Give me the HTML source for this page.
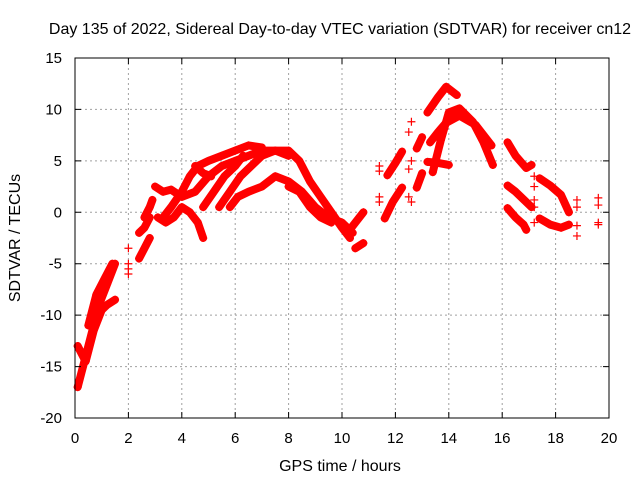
<!DOCTYPE html>
<html><head><meta charset="utf-8"><style>
body{margin:0;background:#fff;}
svg text{font-family:"Liberation Sans",sans-serif;font-size:15px;fill:#000;}
svg text.big{font-size:16px;}
</style></head><body>
<svg width="640" height="480" xmlns="http://www.w3.org/2000/svg">
<rect width="640" height="480" fill="#fff"/>
<g id="grid"></g>
<g id="tracks"></g>
<rect x="75" y="58" width="534" height="360" fill="none" stroke="#000" stroke-width="1"/>
<g id="axes"></g>
<text class="big" x="340" y="34" text-anchor="middle">Day 135 of 2022, Sidereal Day-to-day VTEC variation (SDTVAR) for receiver cn12</text>
<text class="big" x="340" y="471" text-anchor="middle">GPS time / hours</text>
<text class="big" x="20" y="238" text-anchor="middle" transform="rotate(-90 20 238)">SDTVAR / TECUs</text>
</svg>
<script>
const xTicks=[0,2,4,6,8,10,12,14,16,18,20];
const yTicks=[-20,-15,-10,-5,0,5,10,15];
const trackA=[[0.1,-17],[0.3,-15],[0.6,-12],[0.9,-9],[1.2,-7],[1.5,-5]];
const trackB=[[0.1,-13],[0.4,-14.5],[0.7,-11.5],[1.0,-9.5],[1.2,-9],[1.5,-8.5]];
const trackC=[[0.5,-11],[0.8,-8],[1.1,-6.5],[1.4,-5]];
const trackD=[[2.4,-4.5],[2.6,-3.5],[2.8,-2.5]];
const trackE=[[2.4,-2],[2.6,-1.5],[2.8,-0.5]];
const trackF=[[2.6,-0.5],[2.8,0.5],[2.9,1.2]];
const trackG=[[3.0,2.5],[3.3,2],[3.6,2.2],[4.0,1.5],[4.5,2],[5.0,3.5],[5.5,4.5],[6,5],[6.5,5.5],[7,6],[7.5,6],[8,5.5]];
const trackH=[[3.1,-0.5],[3.4,-1],[3.7,-0.5],[4.0,0.5],[4.3,0],[4.6,-1],[4.8,-2.5]];
const trackI=[[3.3,-0.5],[3.6,0.5],[4,2],[4.3,3.5],[4.6,4.5],[5,5],[5.5,5.5],[6,6],[6.5,6.5],[7,6.3]];
const trackK=[[4.8,0.5],[5.2,2],[5.6,3.5],[6,4.5],[6.3,5.5]];
const trackL=[[4.5,4.5],[4.8,3.8],[5.1,3.5]];
const trackM=[[5.4,0.5],[5.8,2],[6.2,3.5],[6.6,4.5],[7,5.5],[7.5,6],[8,6],[8.4,5],[8.8,3],[9.2,1.5],[9.6,0],[10,-1.5],[10.3,-2.5]];
const trackN=[[5.8,0.5],[6.1,1.5],[6.5,2],[7,2.5],[7.5,3.5],[8,3],[8.5,2],[9,0.5],[9.5,-0.5],[10,-1],[10.4,-2]];
const trackO=[[8.0,2.5],[8.4,2],[8.8,0.5],[9.2,-0.5],[9.6,-1]];
const trackP=[[10.2,-2],[10.5,-1],[10.8,0]];
const trackQ=[[10.5,-3.5],[10.8,-3]];
const trackR=[[11.7,3.6],[12.0,4.8],[12.25,5.9]];
const trackS=[[11.6,-0.6],[11.9,1],[12.25,2.4]];
const trackT=[[12.8,6.2],[13.0,7.3]];
const trackT2=[[12.8,2.4],[13.0,3.8]];
const trackU=[[13.2,9.7],[13.6,11.2],[13.9,12.2],[14.3,11.4]];
const trackV=[[13.4,3.9],[13.7,7],[14.0,9.7],[14.4,10.1],[14.9,8.8],[15.3,6.8],[15.65,4.6]];
const trackW=[[13.3,6.8],[13.6,7.8],[13.9,8.7],[14.4,9.4],[15,8.5],[15.6,6.5]];
const trackX=[[13.2,4.9],[13.6,4.8],[14,4.6]];
const trackY=[[16.2,6.8],[16.5,5.5],[16.9,4.3],[17.1,4.6]];
const trackZ=[[16.2,2.6],[16.5,2],[16.9,1],[17.1,0.5]];
const trackZ2=[[16.2,0.4],[16.5,-0.5],[16.8,-1.2],[16.9,-1.7]];
const trackAA=[[17.4,3.3],[17.8,2.6],[18.2,1.7],[18.5,0]];
const trackAB=[[17.4,-0.6],[17.8,-1.2],[18.2,-1.5],[18.5,-1.2]];
const scattered=[[2,-3.5],[2,-5],[2,-5.5],[2,-6],[12.5,7.8],[12.6,8.8],[12.6,5],[12.5,4.2],[12.5,1.5],[12.6,1],[17.2,3.5],[17.2,2.5],[17.2,1.2],[17.2,0.5],[17.2,-1],[18.8,1.2],[18.8,0.5],[18.8,-1.3],[18.8,-2.3],[19.6,1.4],[19.6,0.7],[19.6,-1],[19.6,-1.2],[11.4,4.5],[11.4,4],[11.4,1],[11.4,1.5]];
const tracks=[trackA,trackB,trackC,trackD,trackE,trackF,trackG,trackH,trackI,trackK,trackL,trackM,trackN,trackO,trackP,trackQ,trackR,trackS,trackT,trackT2,trackU,trackV,trackW,trackX,trackY,trackZ,trackZ2,trackAA,trackAB];

const NS="http://www.w3.org/2000/svg";
const X0=75,X1=609,Y0=418,Y1=58;
function xs(h){return X0+(h-0)/(20-0)*(X1-X0);}
function ys(v){return Y0-(v+20)/(35)*(Y0-Y1);}
const grid=document.getElementById('grid'),axes=document.getElementById('axes'),tg=document.getElementById('tracks');
xTicks.forEach(t=>{
  const x=xs(t);
  if(t>0&&t<20){const l=document.createElementNS(NS,'line');
  l.setAttribute('x1',x);l.setAttribute('x2',x);l.setAttribute('y1',Y1);l.setAttribute('y2',Y0);
  l.setAttribute('stroke','#a0a0a0');l.setAttribute('stroke-dasharray','2,3');
  
  
  grid.appendChild(l);}
  const tk=document.createElementNS(NS,'path');
  tk.setAttribute('d',`M${x},${Y0}v-6M${x},${Y1}v6`);tk.setAttribute('stroke','#000');
  
  
  axes.appendChild(tk);
  const tx=document.createElementNS(NS,'text');
  tx.setAttribute('x',x);tx.setAttribute('y',443);tx.setAttribute('text-anchor','middle');tx.textContent=t;
  
  
  axes.appendChild(tx);
});
yTicks.forEach(t=>{
  const y=ys(t);
  if(t>-20&&t<15){const l=document.createElementNS(NS,'line');
  l.setAttribute('x1',X0);l.setAttribute('x2',X1);l.setAttribute('y1',y);l.setAttribute('y2',y);
  l.setAttribute('stroke','#a0a0a0');l.setAttribute('stroke-dasharray','2,3');
  
  
  grid.appendChild(l);}
  const tk=document.createElementNS(NS,'path');
  tk.setAttribute('d',`M${X0},${y}h6M${X1},${y}h-6`);tk.setAttribute('stroke','#000');
  
  
  axes.appendChild(tk);
  const tx=document.createElementNS(NS,'text');
  tx.setAttribute('x',62);tx.setAttribute('y',y+5);tx.setAttribute('text-anchor','end');tx.textContent=t;
  
  
  axes.appendChild(tx);
});
function plus(h,v,g){
  const p=document.createElementNS(NS,'path');const x=xs(h),y=ys(v);
  p.setAttribute('d',`M${x-4},${y}h8M${x},${y-4}v8`);p.setAttribute('stroke','#f00');p.setAttribute('stroke-width','1.2');
  
  
  g.appendChild(p);
}
tracks.forEach(tr=>{
  const pl=document.createElementNS(NS,'polyline');
  pl.setAttribute('points',tr.map(p=>xs(p[0])+','+ys(p[1])).join(' '));
  pl.setAttribute('fill','none');pl.setAttribute('stroke','#f00');pl.setAttribute('stroke-width','8');
  pl.setAttribute('stroke-linejoin','round');pl.setAttribute('stroke-linecap','round');
  
  
  tg.appendChild(pl);
  tr.forEach(p=>plus(p[0],p[1],tg));
});
scattered.forEach(p=>plus(p[0],p[1],tg));
</script>
</body></html>
